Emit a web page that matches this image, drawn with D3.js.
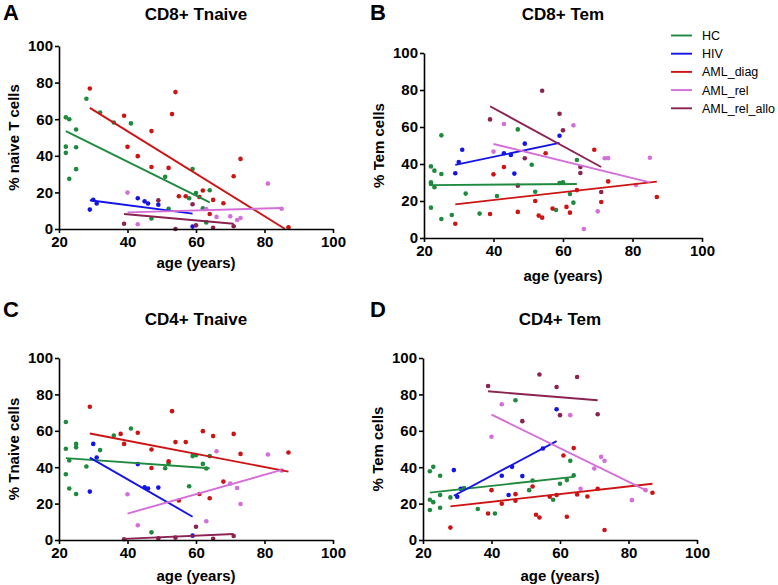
<!DOCTYPE html>
<html>
<head>
<meta charset="utf-8">
<title>T cell subsets vs age</title>
<script src="https://d3js.org/d3.v7.min.js"></script>
<style>
  body { margin: 0; background: #fff; }
  svg text { font-family: "Liberation Sans", Arial, sans-serif; fill: #000; }
  .axis path, .axis line { stroke: #000; stroke-width: 1.6; fill: none; }
  .axis text { font-size: 15px; font-weight: bold; }
  .title { font-size: 17px; font-weight: bold; text-anchor: middle; }
  .axis-title { font-size: 15px; font-weight: bold; text-anchor: middle; }
  .letter { font-size: 22px; font-weight: bold; }
  .legend text { font-size: 12.5px; }
</style>
</head>
<body>
<div id="chart"></div>
<script>
// groups (legend order) and their colours
const groups = ["HC", "HIV", "AML_diag", "AML_rel", "AML_rel_allo"];
const groupColors = ["#1e8a3e", "#1414e6", "#cc1414", "#d46ed8", "#8b2252"];

const xTicks = [20, 40, 60, 80, 100];
const yTicks = [0, 20, 40, 60, 80, 100];

// ---- A: CD8+ Tnaive  [age, %]
const cd8naive_HC = [[22,61],[23,60],[22,45],[22,41.6],[23,27.4],[25,54.4],[25,44.7],[25,32.7],[28,71.2],[32,63.7],
  [36,58.2],[41,57.7],[51,28.5],[52,11.1],[59,32.8],[60,19.7],[58,16.8],[62,11.3],[63,3.6],[64,21.2],[47,5.8]];
const cd8naive_HIV = [[29,10.6],[30,16],[31,13.9],[43,16.8],[45,15.1],[46,13.9],[49,13.3],[59,1.3]];
const cd8naive_diag = [[29,76.8],[39,61.9],[40,44.9],[43,39.8],[47,53.5],[47,33.9],[52,33.4],[53,62.8],[54,74.8],[55,17.9],
  [57,17.9],[61,17.5],[62,21],[64,8.2],[65,15.9],[68,14.1],[71,28.8],[73,38.3],[87,0.9]];
const cd8naive_rel = [[40,19.9],[43,2.6],[63,10.9],[66,6.6],[70,6.9],[72,4.9],[73,6],[81,24.8],[85,11.1]];
const cd8naive_allo = [[39,2.9],[49,15.7],[54,0],[59,13.5],[60,2],[65,0.7],[71,1.5]];
// fit lines [x0, y0, x1, y1] in group order
const cd8naive_fits = [[22,53.5,64,14.6],[29,15.7,59,8.4],[29,66.2,86,0],[40,9.1,85,11.5],[39,8.2,71,2.9]];

// ---- B: CD8+ Tem
const cd8tem_HC = [[22,38.7],[22,30.1],[22,29.2],[23,27.4],[23,36.4],[22,16.4],[25,55.5],[25,34.6],[25,10.3],[28,12.4],
  [32,24],[36,13.2],[41,22.7],[47,58.7],[51,39.6],[52,25],[58,15.1],[59,29.7],[60,30.1],[62,23.8],[63,19.1],[64,42.2]];
const cd8tem_HIV = [[29,35],[30,41.1],[31,47.7],[43,45.8],[45,44.9],[46,34.8],[49,51],[59,55.3]];
const cd8tem_diag = [[29,7.7],[40,34.4],[43,38.4],[39,13],[47,14.1],[52,20],[53,12.1],[54,11],[55,45.8],[57,15.9],
  [61,16.8],[62,13.7],[64,25.9],[69,47.7],[71,19.5],[73,30.6],[87,22.2]];
const cd8tem_rel = [[40,46.7],[43,61.6],[63,60.9],[66,4.9],[70,14.4],[72,43.1],[73,43.2],[81,28.6],[85,43.4]];
const cd8tem_allo = [[39,64.1],[54,79.6],[59,67.2],[60,58.2],[49,43.1],[65,38.4],[65,35.1],[71,24.9],[47,28.3]];
const cd8tem_fits = [[22,28.6,64,29.2],[29,39.5,59,51.4],[29,18.2,87,30.5],[40,50.8,85,30.1],[39,71.2,71,38.4]];

// ---- C: CD4+ Tnaive
const cd4naive_HC = [[22,64.8],[22,50.1],[22,36.1],[23,43.7],[23,28.3],[25,52.8],[25,50.9],[25,25.3],[28,40.4],[32,49.4],
  [36,57.4],[41,61.3],[47,4.2],[51,39.4],[52,42.2],[58,29.5],[59,46.1],[60,46.6],[62,41.8],[63,39.3],[64,46.1]];
const cd4naive_HIV = [[29,26.6],[30,52.8],[31,45.3],[43,41.7],[45,29],[46,28.3],[49,28.8],[59,2.4]];
const cd4naive_diag = [[29,73.2],[38,58.3],[39,52.8],[43,58.9],[47,49.7],[47,39.6],[52,43.3],[53,70.8],[54,53.8],[55,21.7],
  [57,53.8],[61,25.3],[62,59.8],[64,22.9],[65,57.1],[68,32.1],[71,58.3],[73,47.3],[87,48.1]];
const cd4naive_rel = [[40,25.1],[43,8.1],[63,10.3],[66,48.8],[70,31],[72,28.6],[73,19.8],[81,47],[85,38.2]];
const cd4naive_allo = [[39,0.4],[49,0.9],[54,1.3],[60,7.3],[65,0.7],[71,2.2]];
const cd4naive_fits = [[22,45,64,39.4],[29,45.3,59,12.8],[29,58.5,87,37.6],[40,14.5,85,38.5],[39,0.6,71,3.3]];

// ---- D: CD4+ Tem
const cd4tem_HC = [[22,37.8],[23,40.2],[22,22.1],[23,20.8],[22,16.5],[25,35.3],[25,24.7],[25,17.7],[28,23.4],[32,28.5],
  [36,17],[41,14.6],[47,76.8],[51,27.4],[52,32.7],[58,22.1],[60,30.9],[62,32.9],[63,43.5],[64,35.5]];
const cd4tem_HIV = [[29,38.4],[30,23.8],[31,28.2],[43,35.3],[45,24.7],[46,40.2],[49,35.1],[55,50.3],[59,71.8]];
const cd4tem_diag = [[28,6.8],[39,14.6],[40,27.4],[43,19.9],[47,25.2],[47,21.6],[52,29.4],[53,13.9],[54,12.4],[57,23.8],
  [59,24.7],[61,46.4],[62,12.8],[64,50.5],[65,25],[68,23.9],[71,28.2],[73,5.5],[87,26]];
const cd4tem_rel = [[40,56.7],[43,74.6],[63,68.6],[66,28.2],[70,39.3],[72,45.7],[73,43.5],[81,21.9],[85,27.4]];
const cd4tem_allo = [[39,84.6],[49,65.3],[54,90.9],[59,84.1],[60,68.6],[65,89.6],[71,69.1]];
const cd4tem_fits = [[22,26,64,34.7],[29,24.3,59,54.3],[28,18.5,87,30.9],[40,68.9,85,27.4],[39,81.7,71,76.8]];

const panels = [
  { letter: "A", title: "CD8+ Tnaive", ylabel: "% naive T cells", x0: 59, x1: 333, y0: 46, y1: 229, lx: 3, ly: 20, xlab: 39,
    points: [cd8naive_HC, cd8naive_HIV, cd8naive_diag, cd8naive_rel, cd8naive_allo], fits: cd8naive_fits },
  { letter: "B", title: "CD8+ Tem", ylabel: "% Tem cells", x0: 424, x1: 702, y0: 53, y1: 238, lx: 370, ly: 20, xlab: 43,
    points: [cd8tem_HC, cd8tem_HIV, cd8tem_diag, cd8tem_rel, cd8tem_allo], fits: cd8tem_fits, legend: true },
  { letter: "C", title: "CD4+ Tnaive", ylabel: "% Tnaive cells", x0: 59, x1: 333, y0: 358, y1: 540, lx: 3, ly: 317, xlab: 41,
    points: [cd4naive_HC, cd4naive_HIV, cd4naive_diag, cd4naive_rel, cd4naive_allo], fits: cd4naive_fits },
  { letter: "D", title: "CD4+ Tem", ylabel: "% Tem cells", x0: 423, x1: 697, y0: 358, y1: 540, lx: 370, ly: 317, xlab: 41,
    points: [cd4tem_HC, cd4tem_HIV, cd4tem_diag, cd4tem_rel, cd4tem_allo], fits: cd4tem_fits }
];

const svg = d3.select("#chart").append("svg")
  .attr("width", 778)
  .attr("height", 585);

panels.forEach(p => {
  const x = d3.scaleLinear().domain([20, 100]).range([p.x0, p.x1]);
  const y = d3.scaleLinear().domain([0, 100]).range([p.y1, p.y0]);
  const g = svg.append("g");

  // panel letter and title
  g.append("text").attr("class", "letter").attr("x", p.lx).attr("y", p.ly).text(p.letter);
  g.append("text").attr("class", "title")
    .attr("x", (p.x0 + p.x1) / 2)
    .attr("y", p.ly === 20 ? 20 : 325)
    .text(p.title);

  // points
  p.points.forEach((pts, i) => {
    g.selectAll(null)
      .data(pts)
      .enter()
      .append("circle")
      .attr("cx", d => x(d[0]))
      .attr("cy", d => y(d[1]))
      .attr("r", 2.3)
      .attr("fill", groupColors[i]);
  });

  // regression lines
  g.selectAll(null)
    .data(p.fits)
    .enter()
    .append("line")
    .attr("x1", d => x(d[0]))
    .attr("y1", d => y(d[1]))
    .attr("x2", d => x(d[2]))
    .attr("y2", d => y(d[3]))
    .attr("stroke", (d, i) => groupColors[i])
    .attr("stroke-width", 1.9);

  // axes
  g.append("g")
    .attr("class", "axis")
    .attr("transform", `translate(0,${p.y1})`)
    .call(d3.axisBottom(x).tickValues(xTicks).tickSize(4).tickSizeOuter(0).tickPadding(3));
  g.append("g")
    .attr("class", "axis")
    .attr("transform", `translate(${p.x0},0)`)
    .call(d3.axisLeft(y).tickValues(yTicks).tickSize(4).tickSizeOuter(0).tickPadding(2));

  // axis titles
  g.append("text").attr("class", "axis-title")
    .attr("x", (p.x0 + p.x1) / 2)
    .attr("y", p.y1 + p.xlab)
    .text("age (years)");
  g.append("text").attr("class", "axis-title")
    .attr("transform", `translate(${p.x0 - 40},${(p.y0 + p.y1) / 2}) rotate(-90)`)
    .text(p.ylabel);

  // legend (only beside panel B)
  if (p.legend) {
    const lg = g.append("g").attr("class", "legend");
    groups.forEach((name, i) => {
      const ly = 35.5 + i * 18.2;
      lg.append("line")
        .attr("x1", 671).attr("x2", 692)
        .attr("y1", ly).attr("y2", ly)
        .attr("stroke", groupColors[i])
        .attr("stroke-width", 1.9);
      lg.append("text")
        .attr("x", 702).attr("y", ly + 4.5)
        .text(name);
    });
  }
});
</script>
</body>
</html>
